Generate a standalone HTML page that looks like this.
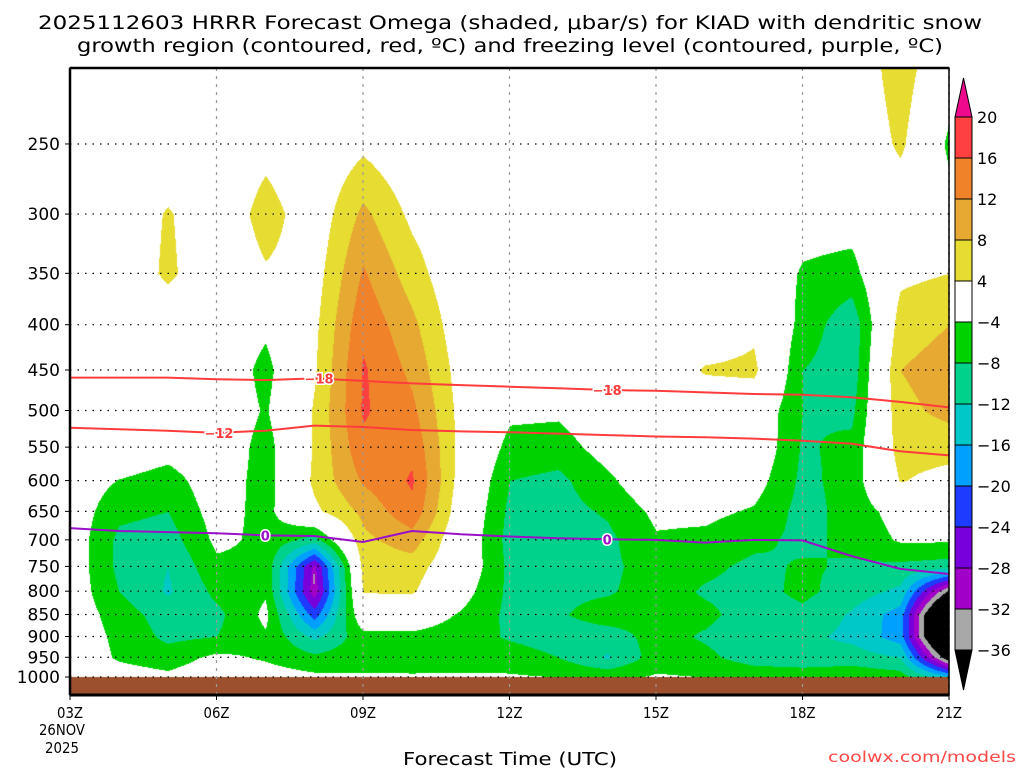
<!DOCTYPE html>
<html><head><meta charset="utf-8">
<style>
html,body{margin:0;padding:0;background:#fff;}
#wrap{position:relative;width:1024px;height:768px;overflow:hidden;font-family:"DejaVu Sans","Liberation Sans",sans-serif;}
canvas,svg{position:absolute;left:0;top:0;}
</style></head>
<body>
<div id="wrap">
<canvas id="cv" width="1024" height="768"></canvas>
<svg id="sv" width="1024" height="768" xmlns="http://www.w3.org/2000/svg">
<text x="510" y="29" text-anchor="middle" font-size="19" textLength="944" lengthAdjust="spacingAndGlyphs">2025112603 HRRR Forecast Omega (shaded, μbar/s) for KIAD with dendritic snow</text>
<text x="510" y="52" text-anchor="middle" font-size="19" textLength="866" lengthAdjust="spacingAndGlyphs">growth region (contoured, red, ºC) and freezing level (contoured, purple, ºC)</text>
<text x="510" y="765" text-anchor="middle" font-size="18" textLength="214" lengthAdjust="spacingAndGlyphs">Forecast Time (UTC)</text>
<text x="1016" y="762" text-anchor="end" font-size="15" fill="#ff4848" textLength="188" lengthAdjust="spacingAndGlyphs">coolwx.com/models</text>
<text x="62" y="735" text-anchor="middle" font-size="15" textLength="46" lengthAdjust="spacingAndGlyphs">26NOV</text>
<text x="62" y="753" text-anchor="middle" font-size="15" textLength="34" lengthAdjust="spacingAndGlyphs">2025</text>
<g id="gGrid"></g>
<g id="gLines"></g>
<g id="gAxes"></g>
<g id="gBar"></g>
</svg>
</div>
<script>
// ---- data ----
const hours = [3,4,5,6,7,8,9,10,11,12,13,14,15,16,17,18,19,20,21];
const xTickLabels = ["03Z","06Z","09Z","12Z","15Z","18Z","21Z"];
const xTickHours = [3,6,9,12,15,18,21];
const levels = [200,250,300,350,400,450,500,550,600,650,700,750,800,850,900,950,1000];
const yTickLevels = [250,300,350,400,450,500,550,600,650,700,750,800,850,900,950,1000];
// omega rows by level, columns by hour 03..21
const om200 = [0,0,0,0,0,0,0,0,0,0,0,0,0,0,0,0,0,7,-1];
const om250 = [0,0,0,0,2.4,0,3,0,0,0,0,0,0,0,0,0,-1,5,-5];
const om300 = [0,0,4.5,0,6,1,9,3,0,0,0,0,0,0,0,-2,-2,0,-2];
const om350 = [0,0,5,0,3.5,2,12.5,6,0,0,0,0,0,0,0,-4.5,-5.5,3,4];
const om400 = [0,0,0,0,-3,3,15,9,1,0,0,0,0,0,3,-5.5,-11,6,8];
const om450 = [0,0,0,0,-5.5,3.5,16.5,11,2,0,0,0,0,4.5,5,-8,-10.5,8,10];
const om500 = [0,0,0,0,-4.5,4.5,16.5,13,2.5,-3,-3.2,0,0,0,0,-8,-9,7,9];
const om550 = [0,0,-2,0,-6,4.5,15,15,2.5,-5.5,-6,-2,0,0,0,-8.5,-7,6,6];
const om600 = [-1,-4.2,-6,-1,-6,5,12.5,16.5,2,-8,-9,-5,0,0,-2,-9,-6.5,4.3,2];
const om650 = [-1,-7,-8,-2,-5.5,3,9,15,1,-9,-9.5,-7.5,-3,-3,-4.5,-9.5,-6.5,-2,-2];
const om700 = [-1,-9,-10,-3,-5,-10,7,10,0,-9.5,-10,-9,-4.5,-5,-7,-9,-7,-3.5,-3.5];
const om750 = [-1,-9,-12,-5,-5,-29,5.5,6,0,-9,-10,-9,-6,-7,-9,-7.5,-8.5,-9,-10];
const om800 = [-1,-8,-12.5,-7,-4.5,-30.5,4.3,4.5,-2,-9,-9,-8.5,-6,-8.5,-9.5,-7,-10,-13,-37];
const om850 = [-1,-6,-10,-9,-3,-22,0,-1,-4.5,-9,-8.5,-6,-7,-7,-10,-9,-12.5,-18,-55];
const om900 = [-1,-5,-9,-8,-4.5,-13,-5.5,-5,-6,-8.5,-10,-10,-6.5,-8.5,-11,-11,-13,-18,-55];
const om950 = [-1,-4.5,-6,-3,-4.5,-7,-5.5,-6,-5.5,-6,-8,-12.5,-6,-7,-10,-11,-10,-12,-40];
const om1000 = [-1,-2,-3,-1,-2,-3,-3.5,-3.5,-3.5,-3.5,-4,-5,-3.5,-4,-5,-5,-5,-6,-15];
const omega = [om200,om250,om300,om350,om400,om450,om500,om550,om600,om650,om700,om750,om800,om850,om900,om950,om1000];
// contour lines: pressure (hPa) at each hour
const t18 = [459,459,459,461,462,460,463,466,468,470,472,474,475,477,479,480,483,489,496];
const t12 = [523,525,527,530,527,520,522,526,528,529,531,533,535,536,538,541,545,556,562];
const t0 = [679,684,686,688,692,693,704,684,690,694,697,699,700,705,700,701,730,755,765];
const cbLevels = [20,16,12,8,4,-4,-8,-12,-16,-20,-24,-28,-32,-36];
const cbColors = ["#ff4040","#f0822a","#e6aa32","#e6dc32","#ffffff","#00d200","#00d28c","#00c8c8","#00a0ff","#1e3cff","#7800dc","#a000c8","#a8a8a8"];

// ---- axes ----
const X0=70, X1=949, YB=677, YTOP=68, YAX=695;
const xs = h => X0 + (h-3)*(X1-X0)/18;
const ys = p => YB - 384.5*Math.log(1000/p);
const NS="http://www.w3.org/2000/svg";
function mk(tag, attrs, parent){const e=document.createElementNS(NS,tag);for(const k in attrs)e.setAttribute(k,attrs[k]);parent.appendChild(e);return e;}

function colorFor(v){
  if(v>=20) return [238,10,140];
  for(let i=0;i<cbLevels.length-1;i++){ if(v>=cbLevels[i+1] && v<cbLevels[i]) { return hex(cbColors[i]); } }
  if(v<-36) return [0,0,0];
  return [255,255,255];
}
function hex(h){return [parseInt(h.substr(1,2),16),parseInt(h.substr(3,2),16),parseInt(h.substr(5,2),16)];}

// ---- shading ----
const cv=document.getElementById('cv'), ctx=cv.getContext('2d');
ctx.fillStyle='#fff';ctx.fillRect(0,0,1024,768);
const img=ctx.getImageData(0,0,1024,768);
const lvY = levels.map(ys);
const hX = hours.map(xs);
for(let y=YTOP;y<YB;y++){
  let k=0; while(k<levels.length-2 && lvY[k+1]<=y) k++;
  let fy=(y-lvY[k])/(lvY[k+1]-lvY[k]); fy=Math.max(0,Math.min(1,fy));
  for(let x=X0;x<X1;x++){
    let i=0; while(i<hours.length-2 && hX[i+1]<=x) i++;
    const fx=(x-hX[i])/(hX[i+1]-hX[i]);
    const a=omega[k][i], b=omega[k][i+1], c=omega[k+1][i], d=omega[k+1][i+1];
    const v=(a*(1-fx)+b*fx)*(1-fy)+(c*(1-fx)+d*fx)*fy;
    const col=colorFor(v); const o=(y*1024+x)*4;
    img.data[o]=col[0];img.data[o+1]=col[1];img.data[o+2]=col[2];img.data[o+3]=255;
  }
}
ctx.putImageData(img,0,0);
ctx.fillStyle='#9c502e';ctx.fillRect(X0,YB,X1-X0,YAX-YB);

// ---- grid ----
const gG=document.getElementById('gGrid');
yTickLevels.forEach(p=>{
  const l=mk('line',{x1:X0,x2:X1,y1:ys(p),y2:ys(p),stroke:'#000','stroke-width':1.2,'stroke-dasharray':'1.5,6'},gG);
  
  
});
xTickHours.forEach(h=>{
  if(h===3) return;
  const l=mk('line',{x1:xs(h),x2:xs(h),y1:YTOP,y2:YAX,stroke:h===21?'#000':'#999','stroke-width':1.2,'stroke-dasharray':'3,5'},gG);
  
  
});

// ---- contour lines ----
const gL=document.getElementById('gLines');
function drawLine(arr,color,name,labels,labelText){
  const d=arr.map((p,i)=>(i?'L':'M')+xs(hours[i]).toFixed(1)+','+ys(p).toFixed(1)).join(' ');
  const pth=mk('path',{d:d,fill:'none',stroke:color,'stroke-width':2},gL);
  
  
  labels.forEach(h=>{
    const i=Math.floor(h-3), f=h-3-i;
    const p=arr[i]*(1-f)+arr[i+1]*f;
    const x=xs(h), y=ys(p);
    const t=mk('text',{x:x,y:y+5,'text-anchor':'middle','font-size':13,'font-weight':'bold',fill:color,stroke:'#fff','stroke-width':3,'paint-order':'stroke'},gL);
    t.textContent=labelText;
    
    
  });
}
drawLine(t18,'#ff3c3c','contour-minus18',[8.1,14],'−18');
drawLine(t12,'#ff3c3c','contour-minus12',[6.05],'−12');
drawLine(t0,'#9a10c8','freezing-level',[7,14],'0');

// ---- axes ----
const gA=document.getElementById('gAxes');
mk('rect',{x:X0,y:YTOP,width:X1-X0,height:YAX-YTOP,fill:'none',stroke:'#000','stroke-width':1.5},gA);
mk('line',{x1:X0,x2:X1,y1:YAX,y2:YAX,stroke:'#000','stroke-width':3},gA);
mk('line',{x1:X0,x2:X0,y1:YTOP,y2:YAX,stroke:'#000','stroke-width':2.5},gA);
mk('line',{x1:X0,x2:X1,y1:YTOP,y2:YTOP,stroke:'#000','stroke-width':2.5},gA);
yTickLevels.forEach(p=>{
  const y=ys(p);
  mk('line',{x1:X0-5,x2:X0,y1:y,y2:y,stroke:'#000','stroke-width':1},gA);
  const t=mk('text',{x:X0-10,y:y+6,'text-anchor':'end','font-size':17},gA);
  t.textContent=String(p);
  
  
});
xTickHours.forEach((h,i)=>{
  mk('line',{x1:xs(h),x2:xs(h),y1:YAX,y2:YAX+5,stroke:'#000','stroke-width':1},gA);
  const t=mk('text',{x:xs(h),y:718,'text-anchor':'middle','font-size':15,textLength:26,lengthAdjust:'spacingAndGlyphs'},gA);
  t.textContent=xTickLabels[i];
  
  
});
const lab=mk('text',{x:314,y:584,'text-anchor':'middle','font-size':13,fill:'#b0b0b0'},gA);
lab.textContent='I';



// ---- colorbar ----
const gB=document.getElementById('gBar');
const CBX=955, CBW=17, CBT=117, CBH=41;
mk('polygon',{points:`${CBX},${CBT} ${CBX+CBW},${CBT} ${CBX+CBW/2},78`,fill:'#ee0a8c',stroke:'#000','stroke-width':1},gB);
cbColors.forEach((c,i)=>{
  const r=mk('rect',{x:CBX,y:CBT+i*CBH,width:CBW,height:CBH,fill:c,stroke:'#000','stroke-width':1},gB);
  
  
});
const bot=CBT+(cbColors.length)*CBH;
mk('polygon',{points:`${CBX},${bot} ${CBX+CBW},${bot} ${CBX+CBW/2},690`,fill:'#000',stroke:'#000','stroke-width':1},gB);
cbLevels.forEach((v,i)=>{
  const t=mk('text',{x:977,y:CBT+i*CBH+6,'font-size':16},gB);
  t.textContent=(v<0?'−':'')+Math.abs(v);
  
  
});
</script>
</body></html>
